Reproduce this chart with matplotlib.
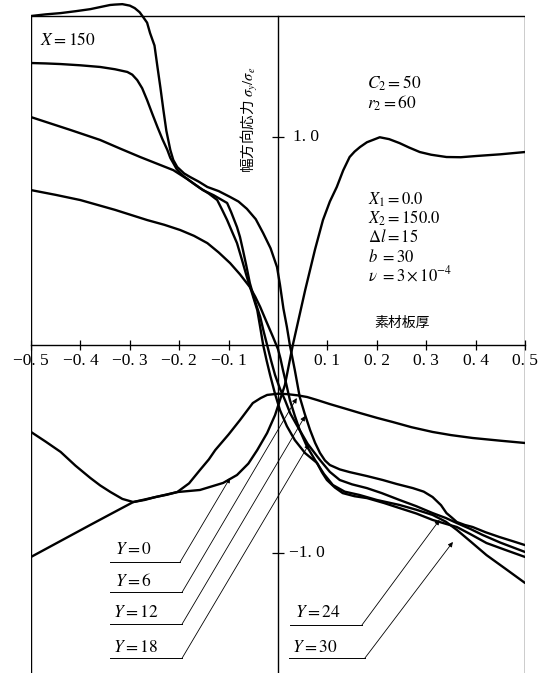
import matplotlib
matplotlib.use("Agg")
import matplotlib.pyplot as plt

plt.rcParams['font.family'] = ['Liberation Serif', 'Noto Sans CJK JP']
plt.rcParams['mathtext.fontset'] = 'stix'

# stress curves (x = plate thickness position, y = sigma_y / sigma_e)
y0_x = [-0.5, -0.44, -0.38, -0.339, -0.293, -0.248, -0.204, -0.158, -0.111, -0.083, -0.06, -0.042,
        -0.022, -0.006, 0.014, 0.030, 0.055, 0.075, 0.091, 0.105, 0.119, 0.132, 0.145, 0.155, 0.166,
        0.18, 0.206, 0.225, 0.246, 0.265, 0.287, 0.31, 0.341, 0.37, 0.402, 0.45, 0.5]
y0_v = [-1.019, -0.942, -0.865, -0.813, -0.755, -0.731, -0.707, -0.697, -0.663, -0.625, -0.57, -0.505,
        -0.423, -0.337, -0.192, 0.0, 0.264, 0.46, 0.601, 0.69, 0.76, 0.84, 0.904, 0.93, 0.952,
        0.975, 0.999, 0.99, 0.971, 0.95, 0.928, 0.915, 0.904, 0.903, 0.909, 0.917, 0.928]

y6_x = [-0.5, -0.47, -0.44, -0.41, -0.38, -0.36, -0.339, -0.315, -0.293, -0.27, -0.248, -0.225,
        -0.204, -0.18, -0.158, -0.14, -0.127, -0.10, -0.077, -0.051, -0.035, -0.022, 0.0, 0.018,
        0.04, 0.059, 0.08, 0.105, 0.135, 0.166, 0.2, 0.232, 0.27, 0.313, 0.35, 0.394, 0.45, 0.5]
y6_v = [-0.418, -0.465, -0.514, -0.58, -0.639, -0.675, -0.707, -0.74, -0.755, -0.745, -0.731, -0.72,
        -0.707, -0.665, -0.601, -0.55, -0.505, -0.43, -0.361, -0.279, -0.255, -0.240, -0.234, -0.236,
        -0.242, -0.250, -0.265, -0.284, -0.305, -0.327, -0.35, -0.370, -0.395, -0.418, -0.433, -0.447,
        -0.46, -0.471]

y12_x = [-0.5, -0.47, -0.44, -0.41, -0.38, -0.36, -0.34, -0.33, -0.315, -0.30, -0.29, -0.28, -0.273,
         -0.265, -0.259, -0.25, -0.244, -0.238, -0.232, -0.226, -0.218, -0.212, -0.204, -0.19, -0.178,
         -0.16, -0.143, -0.12, -0.097, -0.08, -0.063, -0.045, -0.03, -0.015, -0.002, 0.004, 0.011,
         0.018, 0.024, 0.029, 0.034, 0.039, 0.044, 0.054, 0.065, 0.075, 0.085, 0.095, 0.105, 0.125,
         0.145, 0.18, 0.212, 0.24, 0.273, 0.295, 0.313, 0.33, 0.341, 0.352, 0.362, 0.378, 0.394, 0.42,
         0.448, 0.475, 0.5]
y12_v = [1.582, 1.59, 1.596, 1.605, 1.615, 1.625, 1.635, 1.637, 1.639, 1.632, 1.62, 1.60, 1.577,
         1.55, 1.50, 1.44, 1.337, 1.237, 1.13, 1.03, 0.938, 0.89, 0.856, 0.825, 0.808,
         0.785, 0.76, 0.74, 0.712, 0.69, 0.655, 0.605, 0.538, 0.465, 0.375, 0.29, 0.175,
         0.087, 0.0, -0.06, -0.12, -0.185, -0.25, -0.33, -0.409, -0.47, -0.519, -0.555, -0.577, -0.598,
         -0.611, -0.63, -0.649, -0.668, -0.688, -0.705, -0.731, -0.77, -0.808, -0.83, -0.851, -0.865,
         -0.875, -0.9, -0.923, -0.943, -0.962]

y18_x = [-0.5, -0.47, -0.44, -0.40, -0.36, -0.33, -0.305, -0.295, -0.285, -0.275, -0.265, -0.255,
         -0.244, -0.234, -0.224, -0.218, -0.212, -0.205, -0.198, -0.19, -0.17, -0.152, -0.13, -0.103,
         -0.095, -0.083, -0.077, -0.071, -0.064, -0.057, -0.047, -0.036, -0.029, -0.022, -0.014,
         -0.006, 0.004, 0.014, 0.025, 0.038, 0.06, 0.085, 0.105, 0.125, 0.15, 0.18, 0.21, 0.246, 0.28,
         0.313, 0.34, 0.362, 0.39, 0.414, 0.45, 0.5]
y18_v = [1.356, 1.354, 1.351, 1.345, 1.337, 1.326, 1.313, 1.30, 1.274, 1.235, 1.178, 1.115,
         1.048, 0.99, 0.938, 0.9, 0.875, 0.845, 0.827, 0.81, 0.775, 0.745, 0.72, 0.683,
         0.64, 0.567, 0.52, 0.457, 0.38, 0.298, 0.215, 0.135, 0.065, 0.0, -0.075,
         -0.144, -0.21, -0.264, -0.33, -0.385, -0.475, -0.553, -0.61, -0.649, -0.67, -0.688, -0.712,
         -0.745, -0.775, -0.808, -0.832, -0.856, -0.885, -0.913, -0.95, -0.995]

y24_x = [-0.5, -0.46, -0.42, -0.39, -0.36, -0.32, -0.279, -0.245, -0.212, -0.185, -0.158, -0.14,
         -0.123, -0.113, -0.103, -0.093, -0.083, -0.073, -0.063, -0.052, -0.042, -0.036, -0.030,
         -0.023, -0.016, -0.006, 0.004, 0.018, 0.034, 0.055, 0.079, 0.089, 0.099, 0.115, 0.131, 0.155,
         0.180, 0.215, 0.246, 0.28, 0.313, 0.34, 0.362, 0.39, 0.422, 0.46, 0.5]
y24_v = [1.096, 1.065, 1.034, 1.01, 0.986, 0.945, 0.904, 0.872, 0.841, 0.8, 0.755, 0.728,
         0.697, 0.65, 0.601, 0.545, 0.490, 0.41, 0.327, 0.245, 0.168, 0.085, 0.0,
         -0.075, -0.144, -0.235, -0.313, -0.39, -0.457, -0.52, -0.567, -0.612, -0.649, -0.685, -0.712,
         -0.727, -0.736, -0.76, -0.784, -0.81, -0.841, -0.86, -0.875, -0.91, -0.952, -0.985, -1.019]

y30_x = [-0.5, -0.45, -0.40, -0.33, -0.265, -0.23, -0.198, -0.17, -0.143, -0.12, -0.097, -0.077,
         -0.057, -0.046, -0.036, -0.023, -0.010, 0.0, 0.005, 0.010, 0.017, 0.024, 0.034, 0.044, 0.058,
         0.075, 0.093, 0.111, 0.135, 0.165, 0.2, 0.246, 0.28, 0.313, 0.34, 0.362, 0.39, 0.422, 0.46, 0.5]
y30_v = [0.745, 0.722, 0.697, 0.65, 0.601, 0.578, 0.553, 0.525, 0.490, 0.445, 0.394, 0.34,
         0.279, 0.232, 0.183, 0.11, 0.038, -0.02, -0.065, -0.120, -0.19, -0.264, -0.34, -0.409, -0.485,
         -0.553, -0.62, -0.673, -0.705, -0.721, -0.745, -0.769, -0.792, -0.817, -0.85, -0.889, -0.945,
         -1.010, -1.075, -1.144]

curves = [(y0_x, y0_v), (y6_x, y6_v), (y12_x, y12_v), (y18_x, y18_v), (y24_x, y24_v), (y30_x, y30_v)]

x_ticks = [-0.5, -0.4, -0.3, -0.2, -0.1, 0.0, 0.1, 0.2, 0.3, 0.4, 0.5]
x_tick_labels = ['−0. 5', '−0. 4', '−0. 3', '−0. 2', '−0. 1', '', '0. 1', '0. 2', '0. 3', '0. 4', '0. 5']

# label text, text anchor, leader start (underline), arrow tip
y_labels = ['$Y=0$', '$Y=6$', '$Y=12$', '$Y=18$', '$Y=24$', '$Y=30$']
label_pos = [(-0.329, -0.986), (-0.329, -1.139), (-0.335, -1.288), (-0.335, -1.457), (0.034, -1.288), (0.028, -1.457)]
line_start = [(-0.341, -1.043), (-0.341, -1.188), (-0.341, -1.341), (-0.341, -1.505), (0.024, -1.346), (0.022, -1.505)]
line_end = [(-0.198, -1.043), (-0.194, -1.188), (-0.194, -1.341), (-0.194, -1.505), (0.170, -1.346), (0.176, -1.505)]
arrow_tip = [(-0.097, -0.639), (0.038, -0.255), (0.055, -0.341), (0.063, -0.476), (0.327, -0.841), (0.354, -0.947)]

frame_top = 1.582
ymin, ymax = -1.577, 1.659

fig = plt.figure(figsize=(5.47, 6.73), dpi=100)
ax = fig.add_axes([31 / 547, 0, 494 / 547, 1])
ax.set_xlim(-0.5, 0.5)
ax.set_ylim(ymin, ymax)

for xs, vs in curves:
    ax.plot(xs, vs, color='black', lw=1.7, solid_joinstyle='round', solid_capstyle='round')

# frame and axes through the origin
ax.spines['top'].set_visible(False)
ax.spines['right'].set_visible(False)
ax.spines['left'].set_position(('data', 0))
ax.spines['left'].set_bounds(ymin, frame_top)
ax.spines['bottom'].set_position(('data', 0))
for s in ['left', 'bottom']:
    ax.spines[s].set_linewidth(1.0)
ax.vlines([-0.5, 0.5], ymin, frame_top, color='black', lw=1.0)
ax.hlines(frame_top, -0.5, 0.5, color='black', lw=1.0)

ax.set_xticks(x_ticks)
ax.set_xticklabels(x_tick_labels)
ax.tick_params(axis='x', direction='inout', length=7, width=0.9, pad=2, labelsize=12.5)
ax.set_yticks([-1.0, 1.0])
ax.tick_params(axis='y', direction='inout', length=9, width=0.9, labelleft=False)
ax.text(0.030, 1.0, '1. 0', fontsize=12.5, va='center', ha='left')
ax.text(0.022, -1.0, '−1. 0', fontsize=12.5, va='center', ha='left')

ax.text(-0.057, 1.082, '幅方向応力 $\\sigma_y/\\sigma_e$', rotation=90, fontsize=10.5,
        va='center', ha='center', family=['Noto Sans CJK JP', 'DejaVu Sans'])
ax.text(0.196, 0.106, '素材板厚', fontsize=10, va='center', ha='left',
        family=['Noto Sans CJK JP', 'DejaVu Sans'])

ax.text(-0.481, 1.466, '$X=150$', fontsize=12.5, va='center', ha='left')
ax.text(0.180, 1.260, '$C_2=50$', fontsize=12.5, va='center', ha='left')
ax.text(0.180, 1.163, '$r_2=60$', fontsize=12.5, va='center', ha='left')
params = ['$X_1=0.0$', '$X_2=150.0$', '$\\Delta l=15$', '$b\\ =30$', '$\\nu\\ =3\\times10^{-4}$']
param_y = [0.697, 0.611, 0.519, 0.423, 0.337]
for p, py in zip(params, param_y):
    ax.text(0.182, py, p, fontsize=12, va='center', ha='left')

for lab, (tx, ty), (sx, sy), (ex, ey), (hx, hy) in zip(y_labels, label_pos, line_start, line_end, arrow_tip):
    ax.text(tx, ty, lab, fontsize=12.5, va='center', ha='left')
    ax.plot([sx, ex], [sy, ey], color='black', lw=0.7)
    ax.annotate('', xy=(hx, hy), xytext=(ex, ey),
                arrowprops=dict(arrowstyle='-|>', color='black', lw=0.6, mutation_scale=7,
                                shrinkA=0, shrinkB=0))

fig.savefig('out.png', dpi=100)
